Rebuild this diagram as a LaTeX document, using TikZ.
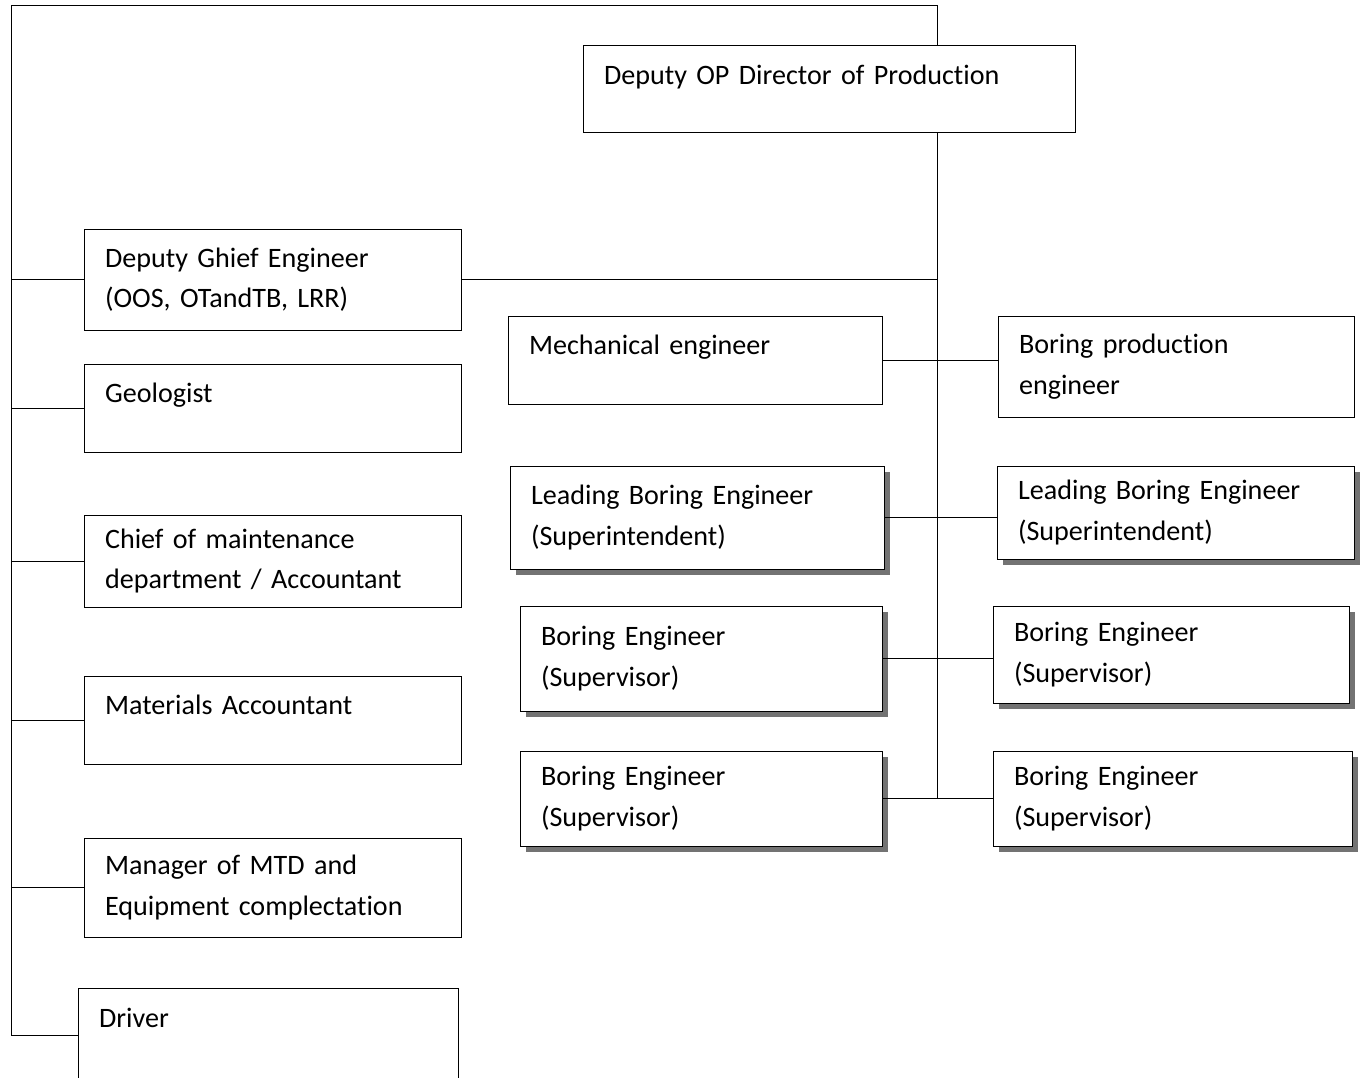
\documentclass[tikz,border=0pt]{standalone}
\usepackage{fontspec}
\setmainfont{Carlito}[Ligatures=NoCommon]
\usetikzlibrary{%
  calc,%
  shadows%
}
\tikzset{
  post/.style={draw, rectangle, fill=white, align=left, inner xsep=.42cm,
    font=\fontsize{16}{23}\selectfont},
  shadowpost/.style={post, drop shadow={shadow xshift=.12cm, shadow yshift=-.12cm,
    fill=black!55, opacity=1}}
}

\begin{document}
\begin{tikzpicture}[x=0.02cm,y=-0.02cm]
\useasboundingbox (0,0) rectangle (1362,1078);
% top
\node[post, text width=9.0cm, minimum height=1.74cm] (dir) at (829,88.5) {Deputy OP Director of Production\\[-7pt]\mbox{}};
% left column
\node[post, text width=6.7cm, minimum height=2.02cm] (dep) at (272.5,279.5) {Deputy Ghief Engineer\\(OOS, OTandTB, LRR)};
\node[post, text width=6.7cm, minimum height=1.76cm] (geo) at (272.5,408) {Geologist\\[-6pt]\mbox{}};
\node[post, text width=6.7cm, minimum height=1.84cm] (chief) at (272.5,561) {Chief of maintenance\\department / Accountant};
\node[post, text width=6.7cm, minimum height=1.76cm] (mat) at (272.5,720) {Materials Accountant\\[-6pt]\mbox{}};
\node[post, text width=6.7cm, minimum height=1.98cm] (man) at (272.5,887.5) {Manager of MTD and\\Equipment complectation};
\node[post, text width=6.76cm, minimum height=2.0cm] (drv) at (268,1038) {Driver\\\mbox{}};
% right part
\node[post, text width=6.64cm, minimum height=1.76cm] (mech) at (695,360) {Mechanical engineer\\[-6pt]\mbox{}};
\node[post, text width=6.28cm, minimum height=2.02cm] (bpe) at (1176,366.5) {Boring production\\engineer};
\node[shadowpost, text width=6.64cm, minimum height=2.06cm] (lbeL) at (697,517.5) {Leading Boring Engineer\\(Superintendent)};
\node[shadowpost, text width=6.3cm, minimum height=1.86cm] (lbeR) at (1175.5,512.5) {Leading Boring Engineer\\(Superintendent)};
\node[shadowpost, text width=6.4cm, minimum height=2.1cm] (beL1) at (701,658.5) {Boring Engineer\\(Supervisor)};
\node[shadowpost, text width=6.28cm, minimum height=1.94cm] (beR1) at (1171,654.5) {Boring Engineer\\(Supervisor)};
\node[shadowpost, text width=6.4cm, minimum height=1.9cm] (beL2) at (701,798.5) {Boring Engineer\\(Supervisor)};
\node[shadowpost, text width=6.34cm, minimum height=1.9cm] (beR2) at (1172.5,798.5) {Boring Engineer\\(Supervisor)};
% lines
\coordinate (top) at (937,5);
\coordinate (tl) at (11,5);
\coordinate (bl) at (11,1035);
\coordinate (tb) at (beL2.east -| top);
\draw (dir.north -| top) -- (top) -- (tl) -- (bl) -- (bl -| drv.west);
\draw (dir.south -| top) -- (tb);
\foreach \n in {dep,geo,chief,mat,man}
  \draw (\n.west) -- (\n.west -| tl);
\draw (dep.east) -- (dep.east -| top);
\draw (mech.east) -- (mech.east -| bpe.west);
\draw (lbeL.east) -- (lbeL.east -| lbeR.west);
\draw (beL1.east) -- (beL1.east -| beR1.west);
\draw (beL2.east) -- (beL2.east -| beR2.west);
\end{tikzpicture}
\end{document}
